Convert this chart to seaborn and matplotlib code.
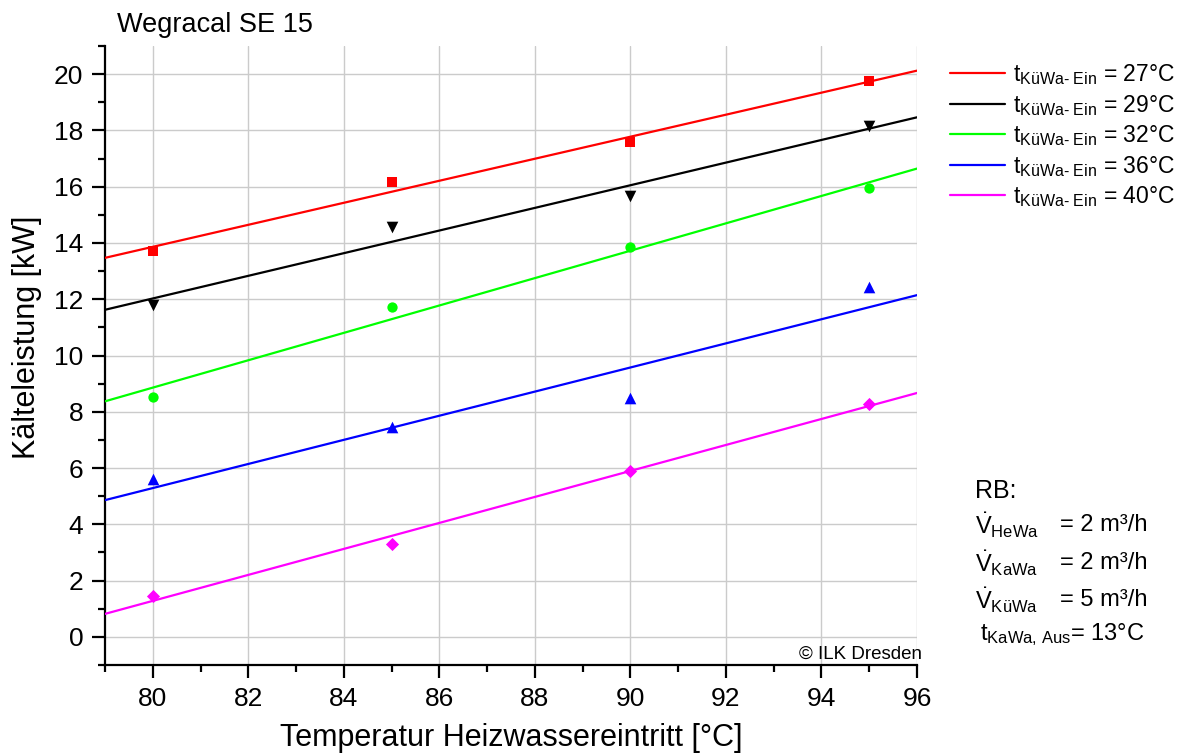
import numpy as np
import pandas as pd
import seaborn as sns
import matplotlib
matplotlib.use("Agg")
import matplotlib.pyplot as plt
from matplotlib.ticker import MultipleLocator

# ---- data ----
temps_in = [80, 85, 90, 95]
series_names = ["27°C", "29°C", "32°C", "36°C", "40°C"]
q_27 = [13.70, 16.16, 17.58, 19.75]
q_29 = [11.81, 14.56, 15.66, 18.15]
q_32 = [8.54, 11.71, 13.84, 15.94]
q_36 = [5.62, 7.47, 8.50, 12.42]
q_40 = [1.46, 3.31, 5.91, 8.29]
series_values = [q_27, q_29, q_32, q_36, q_40]
x_ticks = [80, 82, 84, 86, 88, 90, 92, 94, 96]
y_ticks = [0, 2, 4, 6, 8, 10, 12, 14, 16, 18, 20]

colors = ["#ff0000", "#000000", "#00ff00", "#0000ff", "#ff00ff"]
markers = ["s", "v", "o", "^", "D"]
msizes = [48, 70, 55, 70, 45]

rows = []
for name, vals in zip(series_names, series_values):
    for t, v in zip(temps_in, vals):
        rows.append({"T": t, "Q": v, "series": name})
df = pd.DataFrame(rows)

sns.set_style("ticks")
plt.rcParams['font.family'] = ['Liberation Sans', 'DejaVu Sans']
plt.rcParams['mathtext.fontset'] = 'custom'
plt.rcParams['mathtext.rm'] = 'Liberation Sans'
plt.rcParams['mathtext.it'] = 'Liberation Sans:italic'
plt.rcParams['mathtext.bf'] = 'Liberation Sans:bold'
for k in ['text.color', 'axes.labelcolor', 'xtick.color', 'ytick.color']:
    plt.rcParams[k] = 'black'

W, H = 1179, 756
fig = plt.figure(figsize=(W / 100, H / 100), dpi=100)
ax = fig.add_axes([105 / W, 1 - 665 / H, (917 - 105) / W, (665 - 46) / H])
ax.set_xlim(79, 96)
ax.set_ylim(-1, 21)

handles = []
for name, c, m, s in zip(series_names, colors, markers, msizes):
    sub = df[df["series"] == name]
    sns.regplot(data=sub, x="T", y="Q", ax=ax, ci=None, truncate=False,
                marker=m, color=c,
                scatter_kws={"s": s, "linewidths": 0, "zorder": 4, "alpha": 1},
                line_kws={"lw": 1.6, "zorder": 3})
    handles.append(ax.get_lines()[-1])

ax.set_xlim(79, 96)
ax.set_ylim(-1, 21)
ax.set_xticks(x_ticks)
ax.set_yticks(y_ticks)
ax.xaxis.set_minor_locator(MultipleLocator(1))
ax.yaxis.set_minor_locator(MultipleLocator(1))
ax.grid(True, which="major", color="#cbcbcb", lw=1.0)
ax.set_axisbelow(True)
for sp in ["top", "right"]:
    ax.spines[sp].set_visible(False)
for sp in ["left", "bottom"]:
    ax.spines[sp].set_linewidth(1.6)
    ax.spines[sp].set_color("black")
ax.tick_params(which="major", direction="out", length=9.5, width=1.6,
               labelsize=19, pad=6, color="black")
ax.tick_params(which="minor", direction="out", length=5, width=1.6, color="black")
ax.set_xlabel("Temperatur Heizwassereintritt [°C]", fontsize=22, labelpad=9)
ax.set_ylabel("Kälteleistung [kW]", fontsize=22)
ax.yaxis.set_label_coords(-0.078, 0.53)

fig.text(117 / W, 1 - 12 / H, "Wegracal SE 15", fontsize=19.5, ha="left", va="top")
fig.text(922 / W, 1 - 659 / H, "© ILK Dresden", fontsize=13.5, ha="right", va="baseline")

labels = [r"t$_\text{KüWa- Ein}$ = " + n for n in series_names]
fig.legend(handles, labels, loc="upper left", bbox_to_anchor=(950 / W, 1 - 62 / H),
           frameon=False, fontsize=16.5, handlelength=2.4, handletextpad=0.35,
           borderpad=0, borderaxespad=0, labelspacing=0.25)

fs = 17
fig.text(975 / W, 1 - 491 / H, "RB:", fontsize=18, ha="left", va="center")
for yy, sub, val in [(525, "HeWa", "= 2 m³/h"), (563, "KaWa", "= 2 m³/h"), (600, "KüWa", "= 5 m³/h")]:
    fig.text(975 / W, 1 - yy / H, r"$\dot{\mathrm{V}}_\text{" + sub + "}$", fontsize=fs,
             ha="left", va="center")
    fig.text(1060 / W, 1 - yy / H, val, fontsize=fs, ha="left", va="center")
fig.text(980 / W, 1 - 635 / H, r"t$_\text{KaWa, Aus}$= 13°C", fontsize=fs, ha="left", va="center")

fig.savefig("out.png", dpi=100)
